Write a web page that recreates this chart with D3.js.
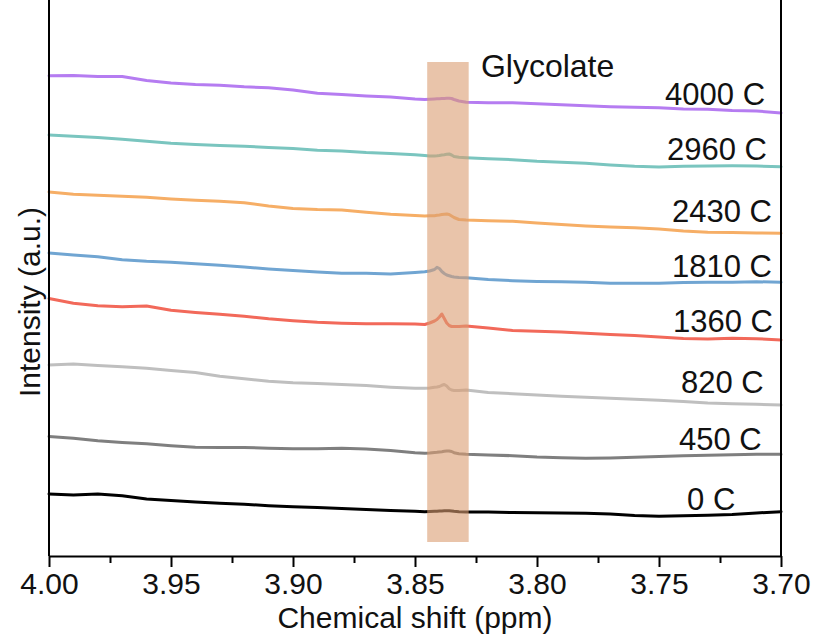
<!DOCTYPE html>
<html><head><meta charset="utf-8">
<script src="https://cdn.jsdelivr.net/npm/d3@7/dist/d3.min.js"></script>
<style>
body{margin:0;background:#fff}
svg{display:block}
text{font-family:"Liberation Sans",Arial,Helvetica,sans-serif;fill:#111}
</style></head>
<body><svg id="chart" width="818" height="641"></svg>
<script>
// ---- data (chemical shift in ppm, intensity in arbitrary units, stacked offsets included) ----
const ppm = [4.00,3.99,3.98,3.97,3.96,3.95,3.94,3.93,3.92,3.91,3.90,3.89,3.88,3.87,3.86,3.85,
  3.846,3.844,3.842,3.841,3.840,3.839,3.838,3.837,3.836,3.835,3.834,3.832,3.829,
  3.82,3.81,3.80,3.79,3.78,3.77,3.76,3.75,3.74,3.73,3.72,3.71,3.70];

const int4000 = [480.2,480.5,479.5,479.5,475.5,473,471.5,470.8,469.2,468.2,466,462.7,461.5,460,459,457,
  456.5,456.7,457,457.2,457.3,457.5,457.6,457.7,457.8,457.5,456.5,455,453.7,
  453.3,453.3,452.3,451.3,450.3,449.3,448.7,448.3,447,446.7,445.5,445,443];
const int2960 = [421,419.8,418.5,416.8,414.8,412.8,411.5,410.6,409.8,408.5,407.4,405.7,405.1,403.5,402.6,401.2,
  400.5,400,400,400.2,400.5,401,401.3,401.7,402,401,399.5,398.7,398.3,
  397.3,396.3,394.7,393.7,392.7,391,389.7,389,389.7,390,390.2,390,389.3];
const int2430 = [364,361.7,360.7,359.8,358.8,357.1,355.8,354.7,353.3,350,347.5,346.4,345.9,343.8,341.7,340.5,
  340,340.2,340.3,340.7,341,341.4,341.8,342,341.5,340,338.5,336.5,336,
  335.3,334.7,333,331.5,330,329,328.3,327,325,323.7,323.5,323,322.7];
const int1810 = [303,301,299.3,296.2,294.7,293.8,292.3,290.7,289,287.1,285.5,284.1,282.7,282.7,282,283.5,
  284.2,285,286.5,288.7,287.5,284.5,282.5,281,280.3,279.5,279,278.5,278.3,
  276.5,275.3,274.5,274.2,273.7,272.7,272.7,272.8,273.5,273.7,273.8,274.3,273.7];
const int1360 = [257.5,252.7,250.2,249.3,250,245.7,243.5,241.7,239.7,237.2,235.3,233.7,232.7,232.2,232.2,232,
  231.5,233,235,236.5,239,242,237.5,233,230.5,229.5,229.5,229.5,230,
  228,225.5,224.7,224,222.7,221.5,220.5,219,217.5,217,217.7,217.3,216];
const int820 = [191,192,190.5,189.3,187.7,185.5,183.5,179.7,177.3,174.8,173.3,172.4,171.6,170.4,168.8,167.7,
  167.7,168,168.7,169,169.5,170.7,171.5,170,167.3,166,165.5,165.5,166,
  163.5,162.3,161,159.7,158.7,157.7,156.7,155.7,154.5,153,152.2,151.7,151];
const int450 = [119.5,117.7,115.2,113.5,112.2,110.2,108.7,108.5,108.6,107.8,107.3,107.2,107.7,107,105.5,103.3,
  102.7,103,103.5,103.7,104,104.3,104.7,105,105,104.5,103.3,102.3,101.7,
  101,100.3,99,98.3,97.7,98,98.7,99.5,100.3,100.7,101.3,101.7,101.7];
const int0 = [62,61,62,60.2,57,55.5,54,52.8,51.8,50.3,49.2,48.4,47.6,46.4,45.6,44.7,
  44.3,44.5,44.7,44.8,45,45.1,45.2,45.3,45.2,45,44.7,44.3,44,
  44,43.5,43.2,43,42.7,42,40.5,39.7,40.2,40.8,41.5,43,44.3];

const seriesNames  = ["4000 C","2960 C","2430 C","1810 C","1360 C","820 C","450 C","0 C"];
const seriesValues = [int4000,int2960,int2430,int1810,int1360,int820,int450,int0];
const seriesColors = ["#b57cf1","#7ac5bf","#f6ae66","#70a5d2","#f2695a","#bfbfbf","#7f7f7f","#000000"];
// label anchors in data coordinates (ppm, intensity)
const labelPpm = [3.7475,3.7467,3.7447,3.7447,3.7443,3.7410,3.7418,3.7385];
const labelInt = [451,396,334,279,224,163,106,46];

const xTicks = [4.00,3.95,3.90,3.85,3.80,3.75,3.70];
const xMinor = [3.975,3.925,3.875,3.825,3.775,3.725];
const band = {from:3.845, to:3.828, low:14, high:494, label:"Glycolate", labelPpm:3.8230, labelInt:479};

// ---- drawing ----
const svg = d3.select("#chart");
const x = d3.scaleLinear().domain([4.00,3.70]).range([49,781]);
const y = d3.scaleLinear().domain([0,556]).range([556,0]);

const line = d3.line().x((d,i)=>x(ppm[i])).y(d=>y(d));

const gLines = svg.append("g");
seriesValues.forEach((vals,k)=>{
  gLines.append("path").datum(vals)
    .attr("d",line).attr("fill","none")
    .attr("stroke",seriesColors[k]).attr("stroke-width",3)
    .attr("stroke-linejoin","round").attr("stroke-linecap","round");
});

// highlight band (drawn over the traces, semi-transparent)
svg.append("rect")
  .attr("x",x(band.from)).attr("width",x(band.to)-x(band.from))
  .attr("y",y(band.high)).attr("height",y(band.low)-y(band.high))
  .attr("fill","#da9d71").attr("opacity",0.6);

svg.append("text").attr("x",x(band.labelPpm)).attr("y",y(band.labelInt))
  .attr("font-size",32).text(band.label);

// series labels
seriesNames.forEach((n,k)=>{
  svg.append("text").attr("x",x(labelPpm[k])).attr("y",y(labelInt[k]))
    .attr("font-size",31).text(n);
});

// frame
svg.append("line").attr("x1",x(4.0)).attr("x2",x(4.0)).attr("y1",0).attr("y2",y(0))
  .attr("stroke","#000").attr("stroke-width",2);
svg.append("line").attr("x1",x(3.7)).attr("x2",x(3.7)).attr("y1",0).attr("y2",y(0))
  .attr("stroke","#000").attr("stroke-width",2);

// x axis
const gx = svg.append("g").attr("transform",`translate(0,${y(0)})`)
  .call(d3.axisBottom(x).tickValues(xTicks).tickFormat(d3.format(".2f")).tickSize(11).tickSizeOuter(0).tickPadding(6));
gx.select(".domain").attr("stroke","#000").attr("stroke-width",2);
gx.selectAll(".tick line").attr("stroke","#000").attr("stroke-width",2);
gx.selectAll(".tick text").attr("font-size",30).attr("font-family","Liberation Sans, Arial, sans-serif").attr("fill","#111");

const gxm = svg.append("g").attr("transform",`translate(0,${y(0)})`)
  .call(d3.axisBottom(x).tickValues(xMinor).tickFormat("").tickSize(7).tickSizeOuter(0));
gxm.select(".domain").remove();
gxm.selectAll(".tick line").attr("stroke","#000").attr("stroke-width",2);

// axis titles
svg.append("text").attr("x",(x(4.0)+x(3.7))/2).attr("y",628)
  .attr("text-anchor","middle").attr("font-size",30).text("Chemical shift (ppm)");
svg.append("text").attr("transform","translate(40,302) rotate(-90)")
  .attr("text-anchor","middle").attr("font-size",30).text("Intensity (a.u.)");
</script></body></html>
